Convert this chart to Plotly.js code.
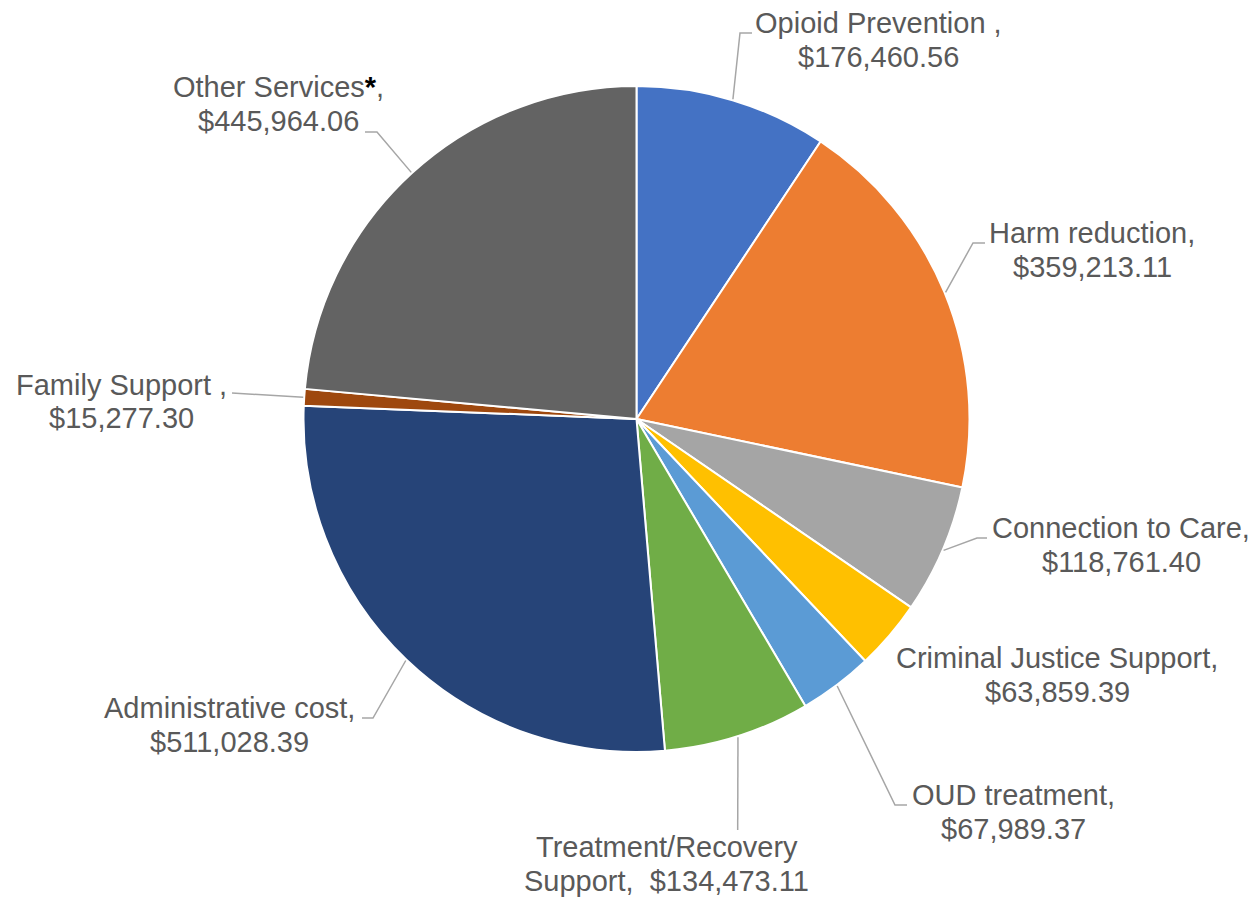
<!DOCTYPE html>
<html>
<head>
<meta charset="utf-8">
<script src="https://cdn.plot.ly/plotly-3.0.1.min.js"></script>
<style>html,body{margin:0;padding:0;background:#fff;}</style>
</head>
<body>
<div id="chart" style="width:1258px;height:900px;"></div>
<script>
// ---- data ----
const categories = [
  "Opioid Prevention", "Harm reduction", "Connection to Care",
  "Criminal Justice Support", "OUD treatment", "Treatment/Recovery Support",
  "Administrative cost", "Family Support", "Other Services"
];
const amounts = [176460.56, 359213.11, 118761.40, 63859.39, 67989.37, 134473.11, 511028.39, 15277.30, 445964.06];
const labelLine1 = [
  "Opioid Prevention ,", "Harm reduction,", "Connection to Care,",
  "Criminal Justice Support,", "OUD treatment,", "Treatment/Recovery",
  "Administrative cost,", "Family Support ,",
  "Other Services<b><span style='color:#000000'>*</span></b>,"
];
const labelLine2 = [
  "$176,460.56", "$359,213.11", "$118,761.40", "$63,859.39", "$67,989.37",
  "Support,\u00A0\u00A0$134,473.11", "$511,028.39", "$15,277.30", "$445,964.06"
];
const colors = ["#4472C4", "#ED7D31", "#A5A5A5", "#FFC000", "#5B9BD5", "#70AD47", "#264478", "#9E480E", "#636363"];

// ---- layout (pixels) ----
const W = 1258, H = 900;
const CX = 636.5, CY = 419, R = 333;
// label centre x, line1 y, line2 y
const labelPos = [
  [878, 23, 57], [1092, 233, 267], [1121, 528, 562], [1057, 658, 692],
  [1013, 795, 829], [667, 847, 881], [229, 708, 742], [121, 385, 418], [278, 87, 121]
];
// leader elbow and end points (null = no leader)
const leaders = [
  [[740, 33], [752, 33]],
  [[973, 243], [985, 243]],
  [[977, 538], [987, 538]],
  null,
  [[895, 805], [907, 805]],
  [[737.7, 830], [737.7, 830]],
  [[373, 718], [362, 718]],
  [[232, 393], [232, 393]],
  [[377, 132], [365, 132]]
];

const px = x => x / W;
const py = y => 1 - y / H;

const total = amounts.reduce((a, b) => a + b, 0);
let cum = 0;
const shapes = [];
amounts.forEach((v, i) => {
  const mid = (cum + v / 2) / total * 2 * Math.PI;
  cum += v;
  if (!leaders[i]) return;
  const sx = CX + (R + 1) * Math.sin(mid);
  const sy = CY - (R + 1) * Math.cos(mid);
  const [e, t] = leaders[i];
  shapes.push({
    type: 'path', xref: 'paper', yref: 'paper',
    path: `M ${px(sx)},${py(sy)} L ${px(e[0])},${py(e[1])} L ${px(t[0])},${py(t[1])}`,
    line: {color: '#A6A6A6', width: 1.5}
  });
});

const font = {family: 'Liberation Sans, Arial, sans-serif', size: 29, color: '#595959'};
const annotations = [];
labelPos.forEach((p, i) => {
  annotations.push({xref: 'paper', yref: 'paper', x: px(p[0]), y: py(p[1]), text: labelLine1[i],
    showarrow: false, xanchor: 'center', yanchor: 'middle', font: font});
  annotations.push({xref: 'paper', yref: 'paper', x: px(p[0]), y: py(p[2]), text: labelLine2[i],
    showarrow: false, xanchor: 'center', yanchor: 'middle', font: font});
});

const trace = {
  type: 'pie',
  labels: categories,
  values: amounts,
  sort: false,
  direction: 'clockwise',
  rotation: 0,
  textinfo: 'none',
  hoverinfo: 'label+value',
  marker: {colors: colors, line: {color: '#FFFFFF', width: 2}},
  domain: {x: [px(CX - R), px(CX + R)], y: [1 - (CY + R) / H, 1 - (CY - R) / H]},
  showlegend: false
};

Plotly.newPlot('chart', [trace], {
  width: W, height: H,
  margin: {l: 0, r: 0, t: 0, b: 0},
  paper_bgcolor: '#FFFFFF',
  showlegend: false,
  shapes: shapes,
  annotations: annotations
}, {displayModeBar: false, staticPlot: true});
</script>
</body>
</html>
